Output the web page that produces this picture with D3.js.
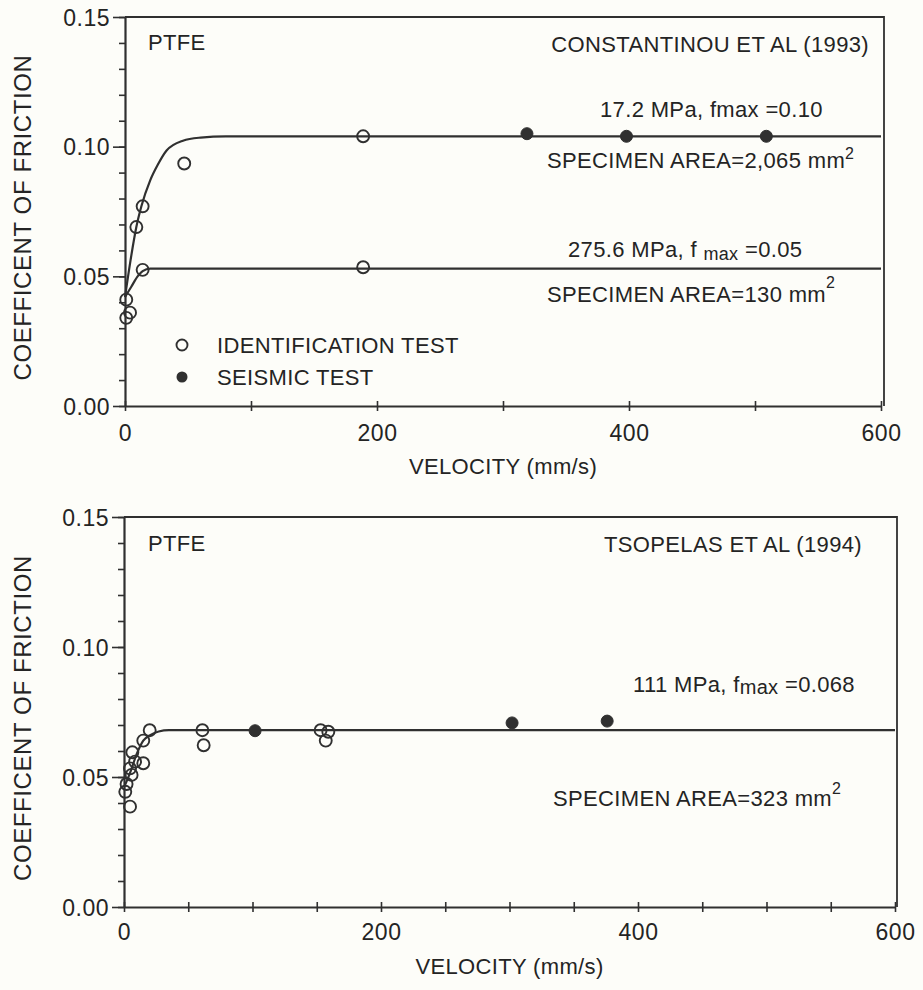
<!DOCTYPE html>
<html>
<head>
<meta charset="utf-8">
<script src="https://cdn.jsdelivr.net/npm/d3@7"></script>
<style>
  html, body { margin: 0; padding: 0; background: #fdfdf9; }
  svg { display: block; }
  text { font-family: "Liberation Sans", Arial, Helvetica, sans-serif; fill: #242424; }
</style>
</head>
<body>
<svg id="chart" width="923" height="990"></svg>
<script>
// ---- Constantinou et al. (1993): velocity (mm/s) vs coefficient of friction ----
const topIdentification = [
  [1, 0.041], [4, 0.036], [1, 0.034], [9, 0.069], [14, 0.077],
  [14, 0.0525], [47, 0.0935], [189, 0.104], [189, 0.0535]
];
const topSeismic = [[319, 0.105], [398, 0.104], [509, 0.104]];
const topCurveHigh = [
  [0, 0.042], [5, 0.058], [9, 0.069], [13, 0.077], [20, 0.087], [26, 0.093],
  [33, 0.0985], [46, 0.1023], [60, 0.1035], [80, 0.104], [600, 0.104]
];
const topCurveLow = [
  [0, 0.042], [5, 0.046], [10, 0.050], [14, 0.052], [20, 0.053], [600, 0.053]
];
const topFmax = [0.104, 0.053];           // plateau of each fitted curve
const topPressure = ["17.2 MPa", "275.6 MPa"];
const topArea = ["2,065", "130"];

// ---- Tsopelas et al. (1994) ----
const bottomIdentification = [
  [20, 0.068], [61, 0.068], [62, 0.0622], [153, 0.068], [159, 0.0674], [157, 0.064],
  [15, 0.064], [6.5, 0.0595], [15, 0.0553], [8.6, 0.0559], [4.7, 0.0533],
  [5.9, 0.0508], [2, 0.0473], [1, 0.0443], [4.7, 0.0386]
];
const bottomSeismic = [[102, 0.0678], [302, 0.0708], [376, 0.0715]];
const bottomCurve = [
  [0, 0.046], [5, 0.052], [10, 0.059], [15, 0.064], [20, 0.066],
  [27, 0.0675], [35, 0.068], [600, 0.068]
];
const bottomFmax = 0.068;

// ---- Axis ticks ----
const xLabelTicks = [0, 200, 400, 600];
const yLabelTicks = [0.00, 0.05, 0.10, 0.15];
const yMinorTicks = d3.range(0, 0.1501, 0.01);
const xMinorTop = d3.range(0, 601, 100);
const xMinorBottom = d3.range(0, 601, 50);

const svg = d3.select("#chart");
const ink = "#303030";
const fmt2 = d3.format(".2f");
const fmt3 = d3.format(".3f");

function panel(cfg) {
  const x = d3.scaleLinear().domain([0, 600]).range(cfg.xr);
  const y = d3.scaleLinear().domain([0, 0.15]).range(cfg.yr);
  const g = svg.append("g");

  // frame: top and right edges
  g.append("path")
    .attr("d", `M${x(0)},${y(0.15)}H${x(600) + cfg.rightPad}V${y(0)}`)
    .attr("fill", "none").attr("stroke", ink).attr("stroke-width", 1.8);

  // y axis: minor ticks, then labelled majors
  g.append("g").attr("transform", `translate(${x(0)},0)`)
    .call(d3.axisLeft(y).tickValues(yMinorTicks).tickSize(6).tickFormat(""))
    .call(s => s.select(".domain").remove())
    .call(s => s.selectAll(".tick line").attr("stroke", ink).attr("stroke-width", 1.6));
  g.append("g").attr("transform", `translate(${x(0)},0)`)
    .call(d3.axisLeft(y).tickValues(yLabelTicks).tickSize(12).tickSizeOuter(0).tickPadding(3).tickFormat(fmt2))
    .call(s => s.select(".domain").attr("stroke", ink).attr("stroke-width", 2.2))
    .call(s => s.selectAll(".tick line").attr("stroke", ink).attr("stroke-width", 1.6))
    .call(s => s.selectAll(".tick text").attr("font-size", 23).attr("letter-spacing", 0.5)
      .attr("dy", "0.36em").attr("fill", "#242424"));

  // x axis: ticks crossing the axis line
  g.append("g").attr("transform", `translate(0,${y(0)})`)
    .call(d3.axisBottom(x).tickValues(cfg.xMinor).tickSize(0).tickFormat(""))
    .call(s => s.select(".domain").attr("stroke", ink).attr("stroke-width", 2.2))
    .call(s => s.selectAll(".tick line").attr("y1", -5).attr("y2", 5)
      .attr("stroke", ink).attr("stroke-width", 1.6));
  g.append("g").attr("transform", `translate(0,${y(0)})`)
    .call(d3.axisBottom(x).tickValues(xLabelTicks).tickSize(0).tickFormat(d3.format("d")))
    .call(s => s.select(".domain").remove())
    .call(s => s.selectAll(".tick text").attr("y", cfg.tickBase).attr("dy", 0)
      .attr("font-size", 23).attr("letter-spacing", 0.5).attr("fill", "#242424"));

  // axis titles
  g.append("text")
    .attr("x", (x(0) + x(600)) / 2).attr("y", y(0) + cfg.titleBase)
    .attr("text-anchor", "middle").attr("font-size", 22).attr("letter-spacing", 0.35)
    .text("VELOCITY (mm/s)");
  g.append("text")
    .attr("transform", `translate(31,${(y(0) + y(0.15)) / 2 + 6}) rotate(-90)`)
    .attr("text-anchor", "middle").attr("font-size", 24).attr("letter-spacing", 0.6)
    .text("COEFFICENT OF FRICTION");

  // fitted curves
  const line = d3.line().x(d => x(d[0])).y(d => y(d[1])).curve(d3.curveMonotoneX);
  cfg.curves.forEach(c => {
    g.append("path").datum(c).attr("d", line)
      .attr("fill", "none").attr("stroke", ink).attr("stroke-width", 2.2);
  });

  // identification tests (open) and seismic tests (filled)
  g.append("g").selectAll("circle").data(cfg.open).join("circle")
    .attr("cx", d => x(d[0])).attr("cy", d => y(d[1])).attr("r", 6)
    .attr("fill", "none").attr("stroke", ink).attr("stroke-width", 1.9);
  g.append("g").selectAll("circle").data(cfg.filled).join("circle")
    .attr("cx", d => x(d[0])).attr("cy", d => y(d[1])).attr("r", 6)
    .attr("fill", ink).attr("stroke", ink).attr("stroke-width", 1);

  return { g, x, y };
}

function label(g, px, py, parts) {
  const t = g.append("text").attr("x", px).attr("y", py)
    .attr("font-size", 22).attr("letter-spacing", 0.35);
  parts.forEach(p => {
    const s = t.append("tspan").text(p.t);
    if (p.size) s.attr("font-size", p.size);
    if (p.dy) s.attr("dy", p.dy);
  });
  return t;
}

// ---------- upper panel ----------
const upper = panel({
  xr: [125, 881], yr: [406, 17], rightPad: 3,
  xMinor: xMinorTop, tickBase: 35, titleBase: 68,
  curves: [topCurveHigh, topCurveLow],
  open: topIdentification, filled: topSeismic
});
label(upper.g, 148, 50, [{ t: "PTFE" }]);
label(upper.g, 869, 52, [{ t: "CONSTANTINOU ET AL (1993)" }]).attr("text-anchor", "end");
label(upper.g, 600, 117, [{ t: `${topPressure[0]}, fmax  =${fmt2(topFmax[0])}` }]);
label(upper.g, 547, 168, [{ t: `SPECIMEN AREA=${topArea[0]} mm` }, { t: "2", size: 16, dy: -9 }]);
label(upper.g, 568, 257, [
  { t: `${topPressure[1]}, f ` }, { t: "max", size: 18, dy: 3 }, { t: " =" + fmt2(topFmax[1]), dy: -3 }
]);
label(upper.g, 547, 302, [{ t: `SPECIMEN AREA=${topArea[1]} mm` }, { t: "2", size: 16, dy: -14 }]);

// legend
upper.g.append("circle").attr("cx", 182).attr("cy", 345).attr("r", 5.5)
  .attr("fill", "none").attr("stroke", ink).attr("stroke-width", 1.9);
upper.g.append("circle").attr("cx", 182).attr("cy", 377).attr("r", 5.5).attr("fill", ink);
label(upper.g, 217, 353, [{ t: "IDENTIFICATION TEST" }]);
label(upper.g, 217, 385, [{ t: "SEISMIC TEST" }]);

// ---------- lower panel ----------
const lower = panel({
  xr: [124, 895], yr: [907, 517], rightPad: 2,
  xMinor: xMinorBottom, tickBase: 33, titleBase: 67,
  curves: [bottomCurve],
  open: bottomIdentification, filled: bottomSeismic
});
label(lower.g, 148, 551, [{ t: "PTFE" }]);
label(lower.g, 862, 552, [{ t: "TSOPELAS ET AL (1994)" }]).attr("text-anchor", "end");
label(lower.g, 633, 692, [
  { t: "111 MPa, f" }, { t: "max", size: 20, dy: 2 }, { t: " =" + fmt3(bottomFmax), dy: -2 }
]);
label(lower.g, 553, 806, [{ t: "SPECIMEN AREA=323 mm" }, { t: "2", size: 16, dy: -12 }]);
</script>
</body>
</html>
